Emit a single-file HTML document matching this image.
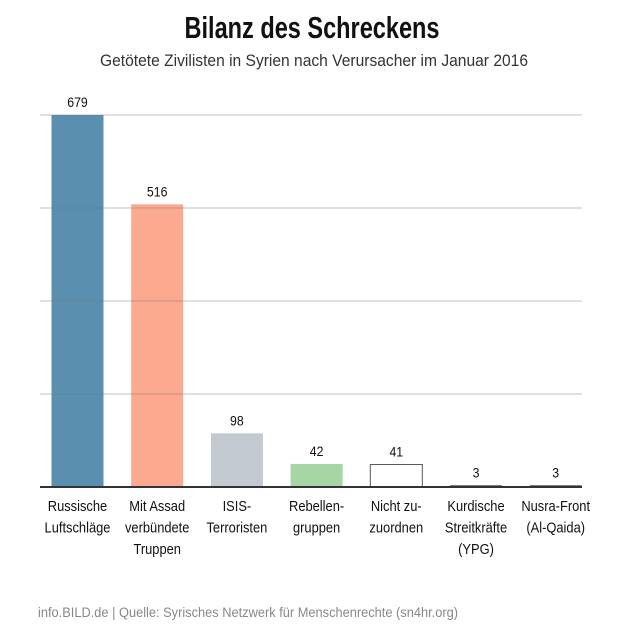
<!DOCTYPE html>
<html><head><meta charset="utf-8"><style>
body{margin:0;background:#fff;}
svg{display:block;font-family:"Liberation Sans Narrow","Liberation Sans",sans-serif;}
</style></head><body>
<svg id="c" width="629" height="629">
<text x="312" y="38" text-anchor="middle" font-size="31" font-weight="bold" fill="#111" textLength="255" lengthAdjust="spacingAndGlyphs">Bilanz des Schreckens</text>
<text x="314" y="66" text-anchor="middle" font-size="17" fill="#333" textLength="428" lengthAdjust="spacingAndGlyphs">Getötete Zivilisten in Syrien nach Verursacher im Januar 2016</text>
<text x="38" y="617" font-size="13.5" fill="#888" textLength="420" lengthAdjust="spacingAndGlyphs">info.BILD.de | Quelle: Syrisches Netzwerk für Menschenrechte (sn4hr.org)</text>
<g id="bars"></g>
<g id="grid"></g>
</svg>
<script>
const categories=[["Russische","Luftschläge"],["Mit Assad","verbündete","Truppen"],["ISIS-","Terroristen"],["Rebellen-","gruppen"],["Nicht zu-","zuordnen"],["Kurdische","Streitkräfte","(YPG)"],["Nusra-Front","(Al-Qaida)"]];
const values=[679,516,98,42,41,3,3];
const valueLabels=["679","516","98","42","41","3","3"];
const colors=["#5a8fb0","#fba98f","#c3c9d0","#a6d6a3","#fff","#2b3a4a","#2b3a4a"];
const gridFractions=[0.25,0.5,0.75,1];
const NS="http://www.w3.org/2000/svg";
const base=487,top0=115,x0=40,x1=582,step=79.7,bw=52;
const maxV=Math.max(...values);
const y=v=>base-(v/maxV)*(base-top0);
const xc=i=>77.5+i*step;
function mk(t,a,p){const e=document.createElementNS(NS,t);for(const k in a)e.setAttribute(k,a[k]);p.appendChild(e);return e;}
const gb=document.getElementById('bars'),gg=document.getElementById('grid');
values.forEach((v,i)=>{
 const yy=y(v);
 const r=mk('rect',{x:xc(i)-bw/2,y:yy,width:bw,height:base-yy,fill:colors[i],stroke:i==4?'#555':'none','stroke-width':1},gb);
 
 
 const t=mk('text',{x:xc(i),y:yy-8,'text-anchor':'middle','font-size':14,fill:'#111',transform:`translate(${xc(i)},0) scale(0.88,1) translate(${-xc(i)},0)`},gb);
 t.textContent=valueLabels[i];
 
 
 categories[i].forEach((ln,j)=>{
  const c=mk('text',{x:xc(i),y:511+j*21.5,'text-anchor':'middle','font-size':15,fill:'#111',transform:`translate(${xc(i)},0) scale(0.86,1) translate(${-xc(i)},0)`},gb);
  c.textContent=ln;
  
  
 });
});
gridFractions.forEach(f=>{
 const yy=y(f*maxV);
 const l=mk('line',{x1:x0,x2:x1,y1:yy,y2:yy,stroke:'rgba(120,120,120,0.45)','stroke-width':1},gg);
 
 
});
const b=mk('line',{x1:x0,x2:x1,y1:base,y2:base,stroke:'#333','stroke-width':2},gg);


</script>
</body></html>
